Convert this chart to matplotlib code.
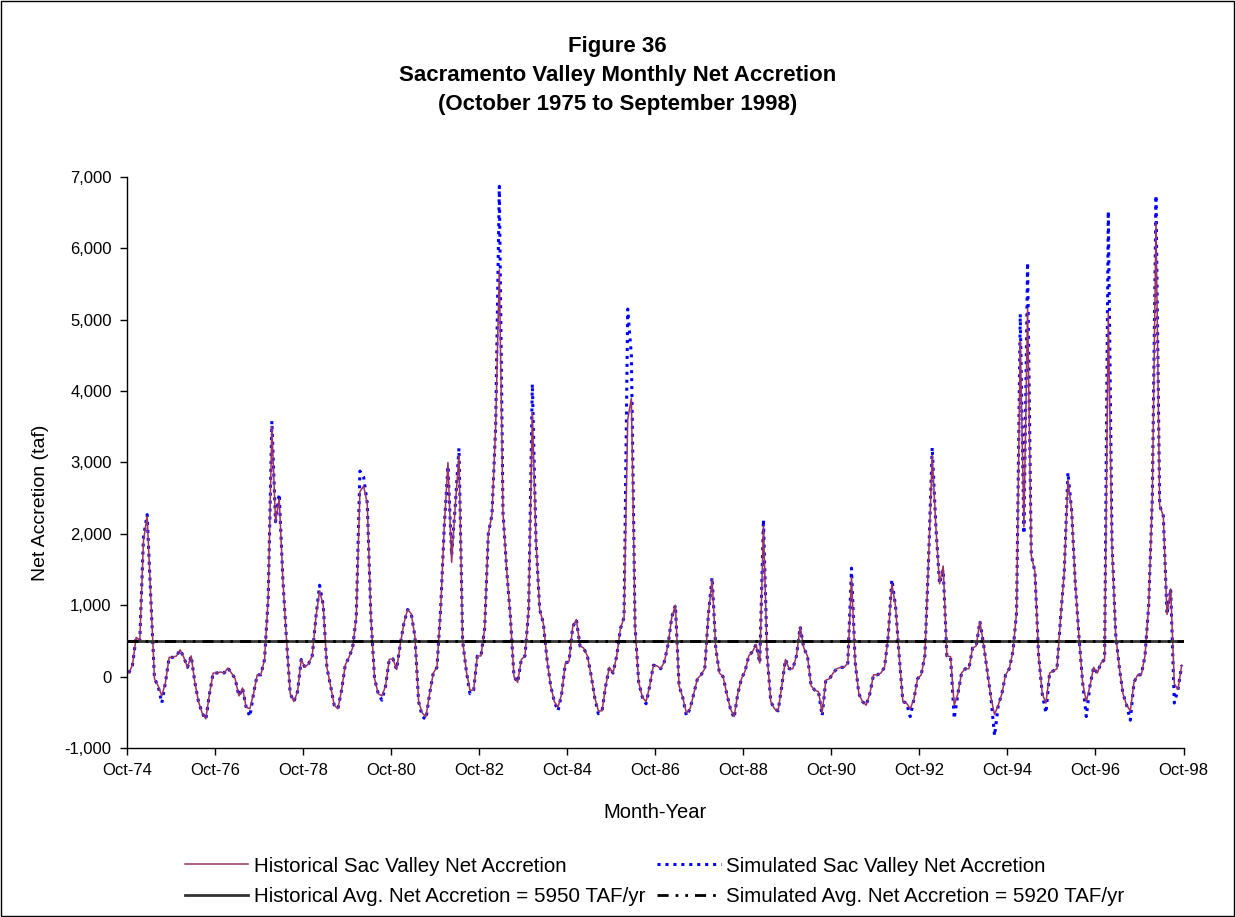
import numpy as np
import matplotlib
matplotlib.use('Agg')
import matplotlib.pyplot as plt
import matplotlib.ticker as mticker
from matplotlib.patches import Rectangle

plt.rcParams['font.family'] = ['Liberation Sans', 'DejaVu Sans']

# monthly net accretion (taf), one row per water year (Oct..Sep), WY1975..WY1998
historical = [
    [50, 160, 550, 510, 1900, 2250, 1100, -30, -130, -270, -80, 270],
    [270, 290, 375, 270, 130, 290, -80, -350, -510, -590, -240, 50],
    [50, 65, 50, 120, 50, -30, -270, -160, -430, -450, -240, 25],
    [25, 240, 1100, 3500, 2170, 2490, 1360, 510, -240, -350, -210, 240],
    [130, 180, 290, 830, 1200, 1000, 130, -130, -400, -450, -190, 160],
    [270, 400, 830, 2590, 2670, 2430, 830, -30, -240, -270, -130, 240],
    [250, 100, 450, 750, 940, 880, 560, -350, -510, -560, -240, 50],
    [130, 940, 2110, 3000, 1600, 2400, 3100, 500, 80, -190, -190, 290],
    [290, 670, 2000, 2270, 3500, 5700, 2300, 1500, 850, 0, -80, 240],
    [290, 940, 3700, 1900, 940, 750, 240, -130, -350, -430, -240, 190],
    [210, 695, 800, 430, 400, 290, 25, -290, -480, -480, -130, 130],
    [50, 290, 670, 830, 3600, 3900, 700, -80, -290, -350, -130, 160],
    [150, 110, 210, 450, 830, 1000, -130, -290, -510, -450, -240, -30],
    [25, 110, 880, 1360, 400, 50, 0, -240, -450, -560, -240, -30],
    [80, 290, 350, 450, 190, 2110, 300, -350, -450, -480, -130, 240],
    [110, 110, 290, 700, 400, 290, -130, -190, -210, -510, -50, -30],
    [50, 110, 130, 130, 190, 1390, 200, -240, -350, -400, -240, 25],
    [25, 50, 130, 560, 1300, 990, 290, -350, -370, -450, -320, -30],
    [25, 290, 1630, 3100, 2100, 1300, 1550, 290, 280, -400, -240, 50],
    [110, 110, 400, 430, 775, 450, 80, -290, -530, -400, -240, 25],
    [110, 350, 900, 4700, 2100, 5150, 1700, 1470, 300, -240, -370, 50],
    [80, 110, 830, 1470, 2750, 2330, 1310, 560, -80, -350, -130, 130],
    [50, 190, 240, 5100, 1800, 600, 130, -240, -400, -480, -80, 25],
    [25, 290, 990, 2500, 6360, 2400, 2250, 870, 1230, -100, -180, 160],
]

simulated = [
    [50, 160, 550, 510, 1950, 2270, 1100, -30, -130, -370, -80, 270],
    [270, 290, 375, 270, 130, 290, -80, -350, -510, -600, -240, 50],
    [50, 65, 50, 120, 50, -30, -270, -160, -430, -560, -240, 25],
    [25, 240, 1100, 3580, 2170, 2560, 1360, 510, -240, -350, -210, 240],
    [130, 180, 290, 830, 1280, 1000, 130, -130, -400, -450, -190, 160],
    [270, 400, 830, 2880, 2800, 2430, 830, -30, -240, -330, -130, 240],
    [250, 100, 450, 750, 940, 880, 560, -350, -560, -600, -240, 50],
    [130, 940, 2110, 2950, 1700, 2400, 3200, 500, 80, -240, -190, 290],
    [290, 670, 2000, 2270, 3500, 6870, 2300, 1500, 850, 0, -80, 240],
    [290, 940, 4100, 1900, 940, 750, 240, -130, -350, -480, -240, 190],
    [210, 695, 800, 430, 400, 290, 25, -290, -520, -480, -130, 130],
    [50, 290, 670, 830, 5150, 4500, 700, -80, -290, -380, -130, 160],
    [150, 110, 210, 450, 830, 1000, -130, -290, -550, -450, -240, -30],
    [25, 110, 880, 1390, 400, 50, 0, -240, -450, -580, -240, -30],
    [80, 290, 350, 450, 190, 2200, 300, -350, -450, -480, -130, 240],
    [110, 110, 290, 700, 400, 290, -130, -190, -210, -550, -50, -30],
    [50, 110, 130, 130, 190, 1520, 200, -240, -350, -400, -240, 25],
    [25, 50, 130, 560, 1360, 990, 290, -350, -370, -560, -320, -30],
    [25, 290, 1630, 3210, 2100, 1300, 1500, 290, 280, -590, -240, 50],
    [110, 110, 400, 430, 775, 450, 80, -290, -830, -400, -240, 25],
    [110, 350, 900, 5080, 2000, 5800, 1700, 1470, 300, -240, -510, 50],
    [80, 110, 830, 1470, 2860, 2330, 1310, 560, -80, -560, -130, 130],
    [50, 190, 240, 6520, 1900, 600, 130, -240, -400, -610, -80, 25],
    [25, 290, 990, 2500, 6740, 2400, 2250, 870, 1230, -370, -180, 160],
]

hist_avg_yr = 5950   # TAF/yr
sim_avg_yr = 5920
tick_labels = ['Oct-74', 'Oct-76', 'Oct-78', 'Oct-80', 'Oct-82', 'Oct-84', 'Oct-86',
               'Oct-88', 'Oct-90', 'Oct-92', 'Oct-94', 'Oct-96', 'Oct-98']

hist = np.array(historical).ravel()
sim = np.array(simulated).ravel()
nmon = len(hist)
x = np.arange(nmon) + 0.5

fig = plt.figure(figsize=(12.35, 9.17), dpi=100)
ax = fig.add_axes([0.1028, 0.1843, 0.8555, 0.6227])

ax.plot(x, hist, color='#993366', lw=1.1, label='Historical Sac Valley Net Accretion', zorder=3)
ax.plot(x, sim, color='#0000ff', lw=2.2, ls=(0, (1, 1.6)), label='Simulated Sac Valley Net Accretion', zorder=2)
ax.plot([0, nmon], [hist_avg_yr / 12.0] * 2, color='#333333', lw=2,
        label='Historical Avg. Net Accretion = %d TAF/yr' % hist_avg_yr, zorder=4)
ax.plot([0, nmon], [sim_avg_yr / 12.0] * 2, color='black', lw=2, ls=(0, (4, 2.5, 1, 2.5, 1, 2.5)),
        label='Simulated Avg. Net Accretion = %d TAF/yr' % sim_avg_yr, zorder=5)

ax.set_xlim(0, nmon)
ax.set_ylim(-1000, 7000)
ax.set_xticks(np.arange(0, nmon + 1, 24))
ax.set_xticklabels(tick_labels)
ax.set_yticks(np.arange(-1000, 7001, 1000))
ax.yaxis.set_major_formatter(mticker.FuncFormatter(lambda v, p: '{:,.0f}'.format(v)))
ax.tick_params(axis='both', direction='out', length=5, width=1, labelsize=12, pad=6)
ax.spines['top'].set_visible(False)
ax.spines['right'].set_visible(False)
for s in ['left', 'bottom']:
    ax.spines[s].set_linewidth(1)

ax.set_xlabel('Month-Year', fontsize=14.5)
ax.xaxis.set_label_coords(0.5, -0.097)
ax.set_ylabel('Net Accretion (taf)', fontsize=14)
ax.yaxis.set_label_coords(-0.074, 0.43)

fig.text(0.5, 0.918, 'Figure 36\nSacramento Valley Monthly Net Accretion\n(October 1975 to September 1998)',
         ha='center', va='center', fontsize=16, fontweight='bold', linespacing=1.5)

handles, labels = ax.get_legend_handles_labels()
order = [0, 2, 1, 3]
fig.legend([handles[i] for i in order], [labels[i] for i in order],
           loc='center', bbox_to_anchor=(0.53, 0.039), ncol=2, frameon=False,
           fontsize=14.8, handlelength=3.1, columnspacing=0.6, labelspacing=0.55, handletextpad=0.25)

fig.patches.append(Rectangle((0.001, 0.001), 0.998, 0.998, transform=fig.transFigure,
                             fill=False, edgecolor='black', lw=1))

fig.savefig('out.png', dpi=100)
